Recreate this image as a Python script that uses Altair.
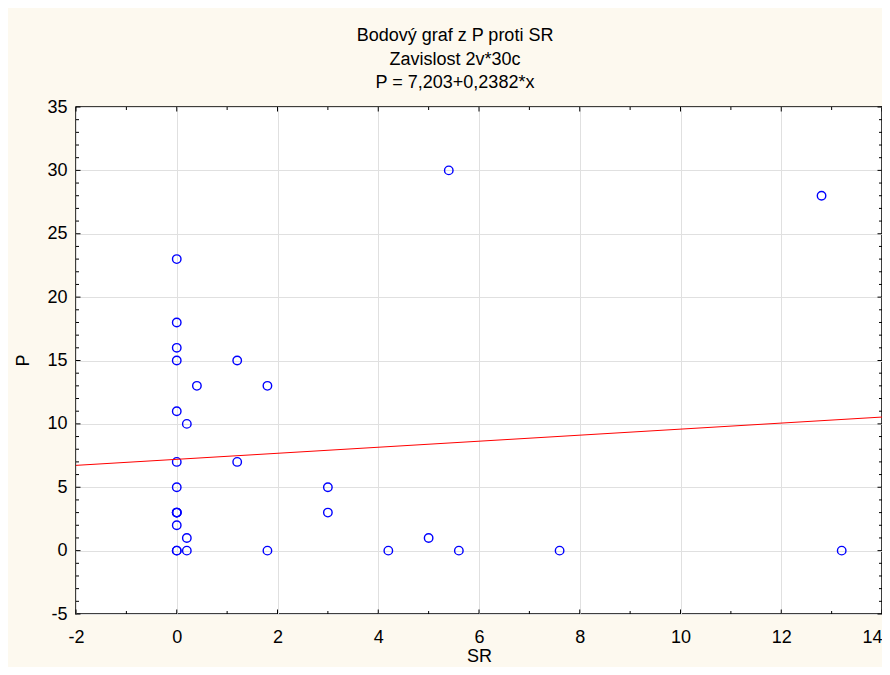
import altair as alt
import pandas as pd

# data
sr = [0, 0, 0, 0, 0, 0, 0, 0, 0, 0, 0, 0, 0,
      0.2, 0.2, 0.2, 0.4, 1.2, 1.2, 1.8, 1.8, 3, 3,
      4.2, 5, 5.4, 5.6, 7.6, 12.8, 13.2]
p = [23, 18, 16, 15, 11, 7, 5, 3, 3, 3, 2, 0, 0,
     10, 1, 0, 13, 15, 7, 13, 0, 5, 3,
     0, 1, 30, 0, 0, 28, 0]

x_major = [-2, 0, 2, 4, 6, 8, 10, 12, 14]
x_minor = [-1, 1, 3, 5, 7, 9, 11, 13]
y_major = [-5, 0, 5, 10, 15, 20, 25, 30, 35]
y_minor = [v for v in range(-5, 36) if v % 5 != 0]

title_lines = ["Bodový graf z P proti SR", "Zavislost 2v*30c", "P = 7,203+0,2382*x"]

W, H = 806, 507
FONT = "Liberation Sans"

df = pd.DataFrame({"SR": sr, "P": p})

xs = alt.Scale(domain=[-2, 14], nice=False, zero=False)
ys = alt.Scale(domain=[-5, 35], nice=False, zero=False)

pts = alt.Chart(df).mark_point(
    shape="circle", filled=False, color="#0000ff", size=72, strokeWidth=1.4, opacity=1
).encode(
    x=alt.X("SR:Q", scale=xs, axis=alt.Axis(
        values=x_major, grid=True, gridColor="#e0e0e0", ticks=False, tickSize=0, domain=False,
        labelPadding=14, labelFontSize=18, labelFont=FONT, labelColor="black",
        labelExpr="'' + datum.value",
        labelAlign={"condition": {"test": "datum.value == 14", "value": "right"}, "value": "center"},
        labelFlush=False, labelOverlap=False, labelBound=False,
        title="SR", titleFont=FONT, titleFontSize=18, titleFontWeight="normal", titleColor="black",
        titleY=47, titleBaseline="alphabetic")),
    y=alt.Y("P:Q", scale=ys, axis=alt.Axis(
        values=y_major, grid=True, gridColor="#e0e0e0", ticks=False, tickSize=0, domain=False,
        labelPadding=9, labelFontSize=18, labelFont=FONT, labelColor="black",
        labelExpr="'' + datum.value",
        labelFlush=False, labelOverlap=False, labelBound=False,
        title="P", titleFont=FONT, titleFontSize=18, titleFontWeight="normal", titleColor="black",
        titleX=-53, titleY=253, titleAlign="center", titleBaseline="middle")),
)

reg = alt.Chart(df).transform_regression("SR", "P", extent=[-2, 14]).mark_line(
    color="#ff0000", strokeWidth=1
).encode(
    x=alt.X("SR:Q", scale=xs),
    y=alt.Y("P:Q", scale=ys),
)


def xticks(vals, y0, y1):
    d = pd.DataFrame({"SR": vals})
    return alt.Chart(d).mark_rule(color="black", strokeWidth=1).encode(
        x=alt.X("SR:Q", scale=xs), y=alt.value(y0), y2=alt.value(y1))


def yticks(vals, x0, x1):
    d = pd.DataFrame({"P": vals})
    return alt.Chart(d).mark_rule(color="black", strokeWidth=1).encode(
        y=alt.Y("P:Q", scale=ys), x=alt.value(x0), x2=alt.value(x1))


ticks = [
    xticks(x_major, H, H - 4.5), xticks(x_minor, H, H - 3),
    xticks(x_major, 0, 4.5), xticks(x_minor, 0, 3),
    yticks(y_major, 0, 4.5), yticks(y_minor, 0, 3),
    yticks(y_major, W, W - 4.5), yticks(y_minor, W, W - 3),
]

chart = alt.layer(pts, reg, *ticks).properties(
    width=W, height=H,
    title=alt.TitleParams(title_lines, font=FONT, fontSize=18, fontWeight="normal", color="black",
                          lineHeight=23.5, anchor="middle", offset=6, dx=-24),
    background="#fdf9ef",
    autosize=alt.AutoSizeParams(type="none"),
    padding={"left": 68, "top": 99, "right": 0, "bottom": 53},
).configure_view(stroke="black", strokeWidth=1.5, fill="white")

chart.save("out.html", embed_options={"renderer": "svg", "actions": False})
